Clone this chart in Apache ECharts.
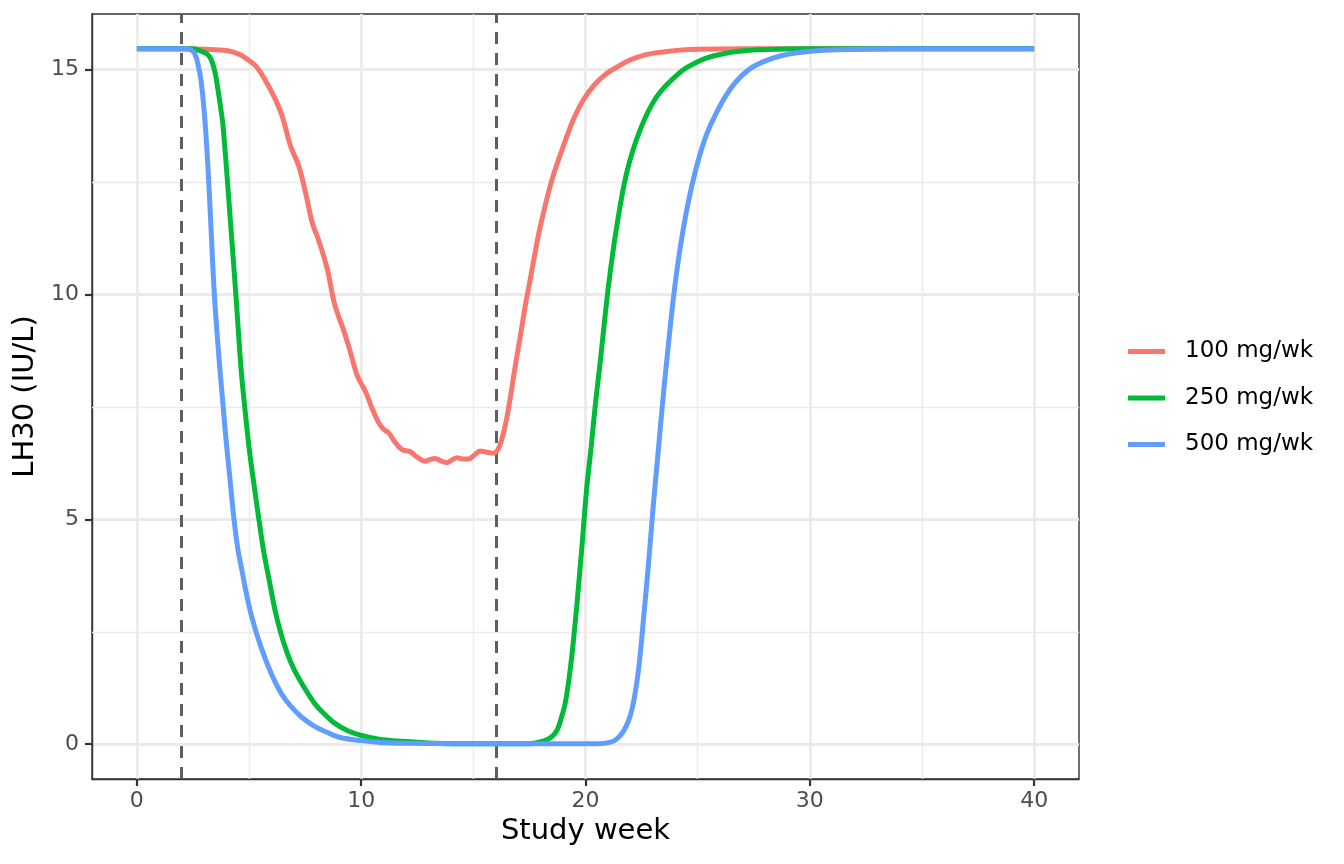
<!DOCTYPE html>
<html>
<head>
    <meta charset="utf-8">
    <title>LH30 by dose</title>
    <script src="https://cdn.jsdelivr.net/npm/echarts@6/dist/echarts.min.js"></script>
    <style>
        html, body { margin: 0; padding: 0; background: #fff; }
    </style>
</head>
<body>
    <div id="main" style="width: 1344px;height:864px;"></div>
    <script type="text/javascript">

// doses shown in the legend
var doseNames = ['100 mg/wk', '250 mg/wk', '500 mg/wk'];
var doseColors = ['#F8766D', '#00BA38', '#619CFF'];

// 100 mg/wk curve
var weeks100 = [0, 2, 3, 4, 4.6, 5.07, 5.3, 5.52, 5.85, 6.18, 6.48, 6.85, 7.22, 7.52, 7.82, 8.12,
    8.49, 8.78, 9.0, 9.22, 9.5, 9.82, 10.19, 10.5, 10.78, 11.0, 11.23, 11.5, 11.82, 12.19, 12.5,
    12.86, 13.08, 13.3, 13.55, 13.82, 14.05, 14.27, 14.55, 14.79, 15.05, 15.3, 15.6, 15.9, 16.1,
    16.27, 16.45, 16.64, 16.85, 17.09, 17.3, 17.53, 17.75, 17.98, 18.5, 19.16, 19.5, 19.9, 20.4,
    20.94, 21.5, 21.98, 22.7, 23.46, 24.2, 25, 27, 40];
var lh100 = [15.46, 15.46, 15.45, 15.42, 15.33, 15.17, 15.08, 14.93, 14.65, 14.33, 13.96, 13.3,
    12.85, 12.26, 11.59, 11.18, 10.56, 9.85, 9.5, 9.2, 8.75, 8.2, 7.84, 7.45, 7.15, 7.0, 6.92,
    6.72, 6.55, 6.5, 6.38, 6.29, 6.33, 6.35, 6.3, 6.26, 6.32, 6.37, 6.34, 6.34, 6.43, 6.52, 6.49,
    6.47, 6.55, 6.78, 7.15, 7.68, 8.35, 9.06, 9.7, 10.32, 10.92, 11.5, 12.54, 13.5, 13.93, 14.32,
    14.66, 14.91, 15.08, 15.21, 15.33, 15.39, 15.43, 15.45, 15.46, 15.46];

// 250 mg/wk curve
var weeks250 = [0, 2.3, 2.49, 2.8, 3.09, 3.25, 3.38, 3.5, 3.6, 3.72, 3.83, 3.98, 4.2, 4.42, 4.65,
    4.87, 5.0, 5.2, 5.44, 5.65, 5.89, 6.15, 6.41, 6.7, 7.0, 7.45, 7.89, 8.3, 8.78, 9.4, 9.97, 10.8,
    11.6, 13, 15, 17.5, 18.12, 18.45, 18.72, 18.9, 19.09, 19.25, 19.39, 19.5, 19.61, 19.83, 20.05,
    20.25, 20.45, 20.65, 21.02, 21.39, 21.83, 22.43, 23.17, 24.2, 25.0, 25.69, 27.17, 30, 40];
var lh250 = [15.46, 15.46, 15.46, 15.42, 15.36, 15.28, 15.13, 14.9, 14.6, 14.2, 13.8, 12.9, 11.43,
    9.95, 8.32, 7.2, 6.6, 5.85, 5.0, 4.3, 3.67, 3.0, 2.48, 2.03, 1.67, 1.27, 0.93, 0.7, 0.48, 0.3,
    0.2, 0.11, 0.07, 0.03, 0.01, 0.01, 0.07, 0.15, 0.3, 0.55, 0.9, 1.4, 1.96, 2.5, 3.07, 4.33, 5.67,
    6.6, 7.6, 8.47, 10.17, 11.5, 12.69, 13.65, 14.39, 14.93, 15.17, 15.3, 15.42, 15.46, 15.46];

// 500 mg/wk curve
var weeks500 = [0, 2.2, 2.34, 2.5, 2.64, 2.75, 2.86, 3.01, 3.16, 3.31, 3.46, 3.68, 3.9, 3.96, 4.15,
    4.33, 4.5, 4.7, 4.88, 5.07, 5.3, 5.52, 5.8, 6.11, 6.45, 6.85, 7.35, 7.89, 8.5, 9.08, 10, 10.86,
    12, 14, 20.5, 21.09, 21.4, 21.68, 21.9, 22.06, 22.2, 22.35, 22.46, 22.57, 22.8, 23.02, 23.24,
    23.42, 23.61, 23.98, 24.35, 24.8, 25.32, 25.85, 26.43, 27.0, 27.57, 28.68, 30.14, 32.36, 34, 40];
var lh500 = [15.46, 15.46, 15.45, 15.4, 15.28, 15.05, 14.76, 14.02, 12.91, 11.43, 9.95, 8.47, 7.2,
    6.85, 5.9, 5.0, 4.35, 3.82, 3.35, 2.93, 2.52, 2.18, 1.8, 1.44, 1.12, 0.85, 0.6, 0.41, 0.26, 0.15,
    0.08, 0.04, 0.02, 0.01, 0.01, 0.04, 0.12, 0.28, 0.5, 0.75, 1.1, 1.6, 2.1, 2.7, 3.96, 5.3, 6.5,
    7.5, 8.47, 10.17, 11.43, 12.54, 13.45, 14.05, 14.55, 14.88, 15.09, 15.3, 15.41, 15.45, 15.46,
    15.46];

// axis ticks and reference lines
var xTicks = [0, 10, 20, 30, 40];
var xMinor = [5, 15, 25, 35];
var yTicks = [0, 5, 10, 15];
var yMinor = [2.5, 7.5, 12.5];
var treatmentWeeks = [2, 16];

function zip(xs, ys) {
    return xs.map(function (x, i) { return [x, ys[i]]; });
}

var myChart = echarts.init(document.getElementById('main'));

var font = 'DejaVu Sans';
var gridColor = '#ebebeb';

var refLines = [];
xMinor.forEach(function (v) {
    refLines.push({ xAxis: v, lineStyle: { color: gridColor, width: 1.4, type: 'solid' } });
});
yMinor.forEach(function (v) {
    refLines.push({ yAxis: v, lineStyle: { color: gridColor, width: 1.4, type: 'solid' } });
});
treatmentWeeks.forEach(function (v) {
    refLines.push({ xAxis: v, lineStyle: { color: '#5f5f5f', width: 3, type: [12, 9] } });
});

var curves = [zip(weeks100, lh100), zip(weeks250, lh250), zip(weeks500, lh500)];

var series = curves.map(function (d, i) {
    var s = {
        name: doseNames[i],
        type: 'line',
        data: d,
        showSymbol: false,
        smooth: 0.35,
        z: 3,
        color: doseColors[i],
        lineStyle: { width: 5, color: doseColors[i] }
    };
    if (i === 0) {
        s.markLine = {
            silent: true,
            symbol: 'none',
            z: 1,
            label: { show: false },
            emphasis: { disabled: true },
            animation: false,
            data: refLines
        };
    }
    return s;
});

var option = {
    animation: false,
    backgroundColor: '#ffffff',
    textStyle: { fontFamily: font },
    grid: {
        left: 92,
        right: 265,
        top: 14,
        bottom: 85,
        show: true,
        borderColor: '#333333',
        borderWidth: 1.4,
        backgroundColor: 'transparent'
    },
    legend: {
        data: doseNames,
        orient: 'vertical',
        left: 1123,
        top: 335,
        icon: 'rect',
        itemWidth: 37,
        itemHeight: 5,
        itemGap: 23.5,
        textStyle: {
            fontFamily: font,
            fontSize: 23,
            color: '#000000',
            lineHeight: 23,
            padding: [0, 0, 0, 15]
        }
    },
    xAxis: {
        type: 'value',
        min: -2,
        max: 42,
        name: 'Study week',
        nameLocation: 'middle',
        nameGap: 35,
        nameTextStyle: { fontFamily: font, fontSize: 29, color: '#000000' },
        axisLine: { show: true, onZero: false, lineStyle: { color: '#333333', width: 1.4 } },
        axisTick: { show: true, length: 7, customValues: xTicks, lineStyle: { color: '#333333', width: 2.2 } },
        axisLabel: { customValues: xTicks, margin: 11, fontSize: 22, color: '#4d4d4d', fontFamily: font },
        splitLine: { show: true, lineStyle: { color: gridColor, width: 2.8 } }
    },
    yAxis: {
        type: 'value',
        min: -0.773,
        max: 16.233,
        name: 'LH30 (IU/L)',
        nameLocation: 'middle',
        nameGap: 48,
        nameRotate: 90,
        nameTextStyle: { fontFamily: font, fontSize: 29, color: '#000000' },
        axisLine: { show: true, onZero: false, lineStyle: { color: '#333333', width: 1.4 } },
        axisTick: { show: true, length: 7, customValues: yTicks, lineStyle: { color: '#333333', width: 2.2 } },
        axisLabel: { customValues: yTicks, margin: 13, fontSize: 22, color: '#4d4d4d', fontFamily: font },
        splitLine: { show: true, lineStyle: { color: gridColor, width: 2.8 } }
    },
    series: series
};

myChart.setOption(option);
    </script>
</body>
</html>
